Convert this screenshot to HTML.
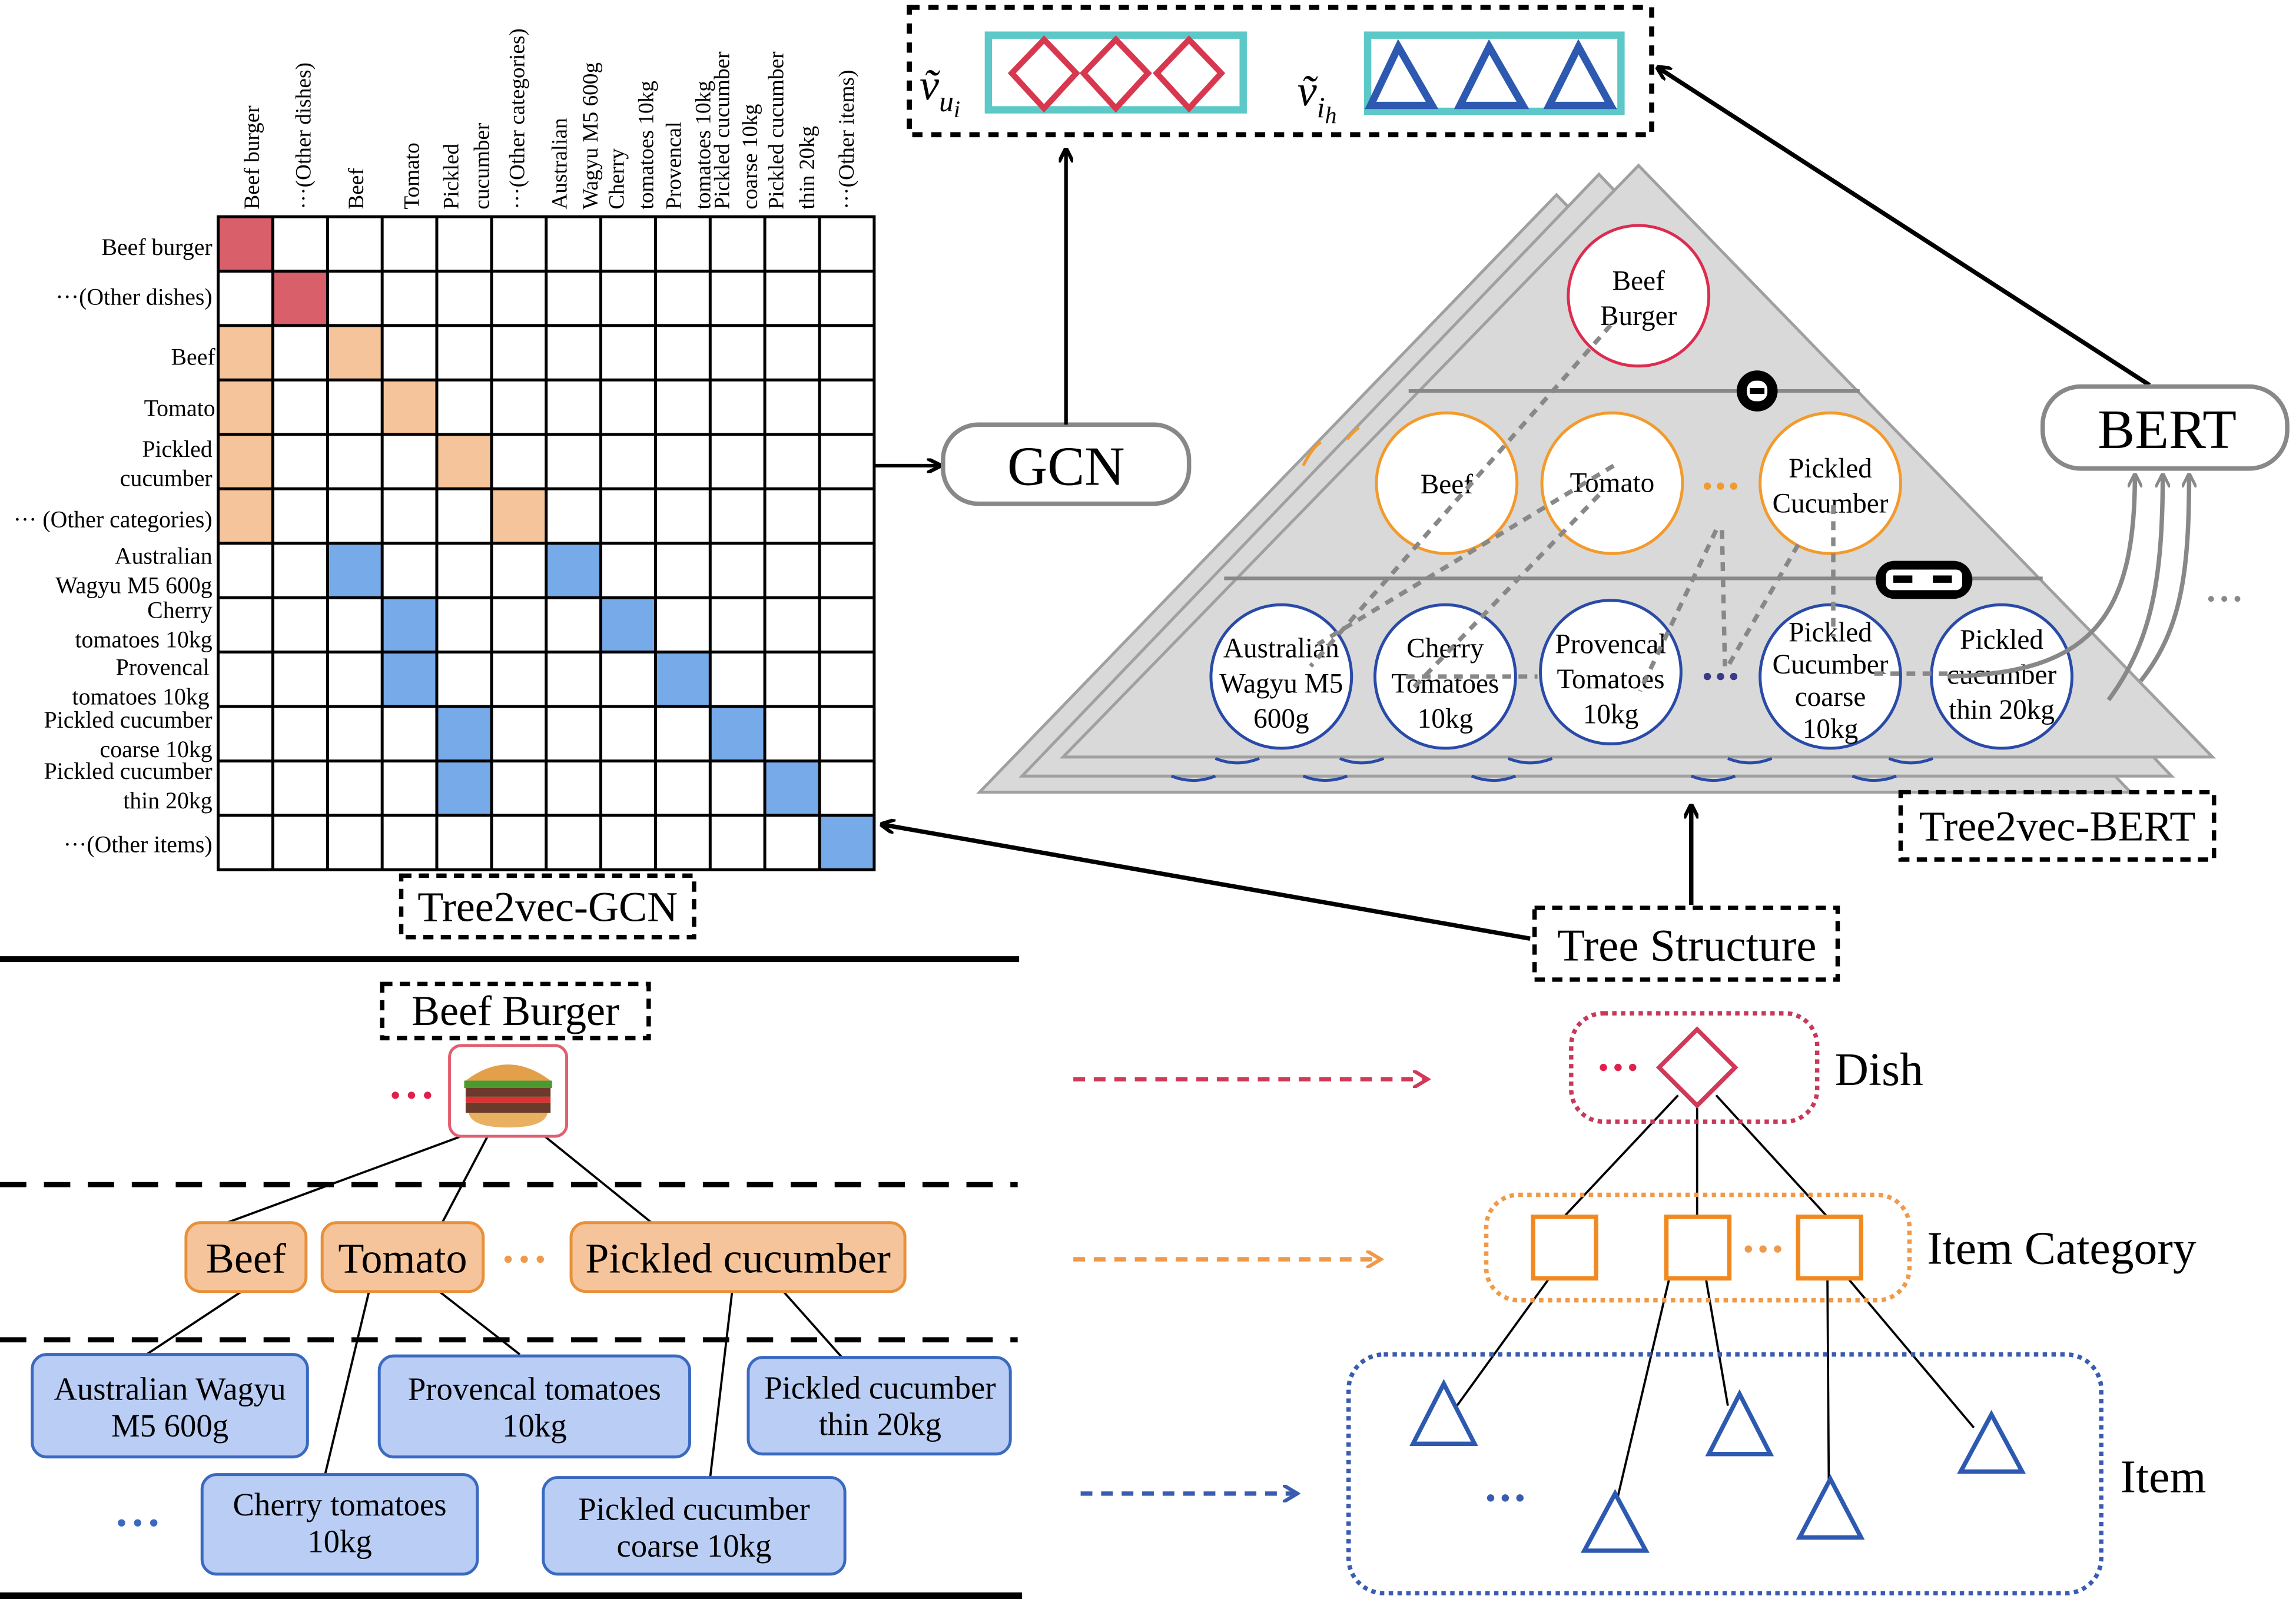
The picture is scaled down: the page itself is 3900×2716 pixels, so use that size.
<!DOCTYPE html>
<html><head><meta charset="utf-8"><style>html,body{margin:0;padding:0;background:#fff}svg{display:block}svg text,svg tspan{font-family:"Liberation Serif","DejaVu Serif",serif}</style></head>
<body>
<svg xmlns="http://www.w3.org/2000/svg" width="3900" height="2716" viewBox="0 0 1568 1092" preserveAspectRatio="none" style="font-family:'Liberation Serif',serif">
<defs>
<marker id="ah" markerWidth="10" markerHeight="10" refX="9" refY="5" orient="auto" markerUnits="userSpaceOnUse"><path d="M0,0 L10,5 L0,10" fill="none" stroke="#000" stroke-width="2.5"/></marker>
<marker id="ahg" markerWidth="10" markerHeight="10" refX="9" refY="5" orient="auto" markerUnits="userSpaceOnUse"><path d="M0,0 L10,5 L0,10" fill="none" stroke="#888" stroke-width="2"/></marker>
<marker id="ahr" markerWidth="12" markerHeight="12" refX="10" refY="6" orient="auto" markerUnits="userSpaceOnUse"><path d="M0,0 L10,6 L0,12" fill="none" stroke="#d03a58" stroke-width="2.5"/></marker>
<marker id="aho" markerWidth="12" markerHeight="12" refX="10" refY="6" orient="auto" markerUnits="userSpaceOnUse"><path d="M0,0 L10,6 L0,12" fill="none" stroke="#ef9a4a" stroke-width="2.5"/></marker>
<marker id="ahb" markerWidth="12" markerHeight="12" refX="10" refY="6" orient="auto" markerUnits="userSpaceOnUse"><path d="M0,0 L10,6 L0,12" fill="none" stroke="#3a5cb0" stroke-width="2.5"/></marker>
</defs>

<g>
<rect x="149" y="148" width="37.33" height="37.17" fill="#d9606b"/>
<rect x="186.3" y="185.2" width="37.33" height="37.17" fill="#d9606b"/>
<g fill="#f6c49a">
<rect x="149" y="222.3" width="37.33" height="148.7"/>
<rect x="223.7" y="222.3" width="37.33" height="37.17"/>
<rect x="261" y="259.5" width="37.33" height="37.17"/>
<rect x="298.3" y="296.7" width="37.33" height="37.17"/>
<rect x="335.7" y="333.8" width="37.33" height="37.17"/>
</g>
<g fill="#77aae8">
<rect x="223.7" y="371" width="37.33" height="37.17"/>
<rect x="373" y="371" width="37.33" height="37.17"/>
<rect x="261" y="408.2" width="37.33" height="74.3"/>
<rect x="410.3" y="408.2" width="37.33" height="37.17"/>
<rect x="447.7" y="445.3" width="37.33" height="37.17"/>
<rect x="298.3" y="482.5" width="37.33" height="74.3"/>
<rect x="485" y="482.5" width="37.33" height="37.17"/>
<rect x="522.3" y="519.7" width="37.33" height="37.17"/>
<rect x="559.7" y="556.8" width="37.33" height="37.17"/>
</g>
<g stroke="#000" stroke-width="2" fill="none">
<rect x="149" y="148" width="448" height="446"/>
<path d="M186.3 148V594M223.7 148V594M261 148V594M298.3 148V594M335.7 148V594M373 148V594M410.3 148V594M447.7 148V594M485 148V594M522.3 148V594M559.7 148V594"/>
<path d="M149 185.2H597M149 222.3H597M149 259.5H597M149 296.7H597M149 333.8H597M149 371H597M149 408.2H597M149 445.3H597M149 482.5H597M149 519.7H597M149 556.8H597"/>
</g>
</g>
<g font-size="16" text-anchor="end" fill="#000">
<text x="145" y="174">Beef burger</text>
<text x="145" y="208">···(Other dishes)</text>
<text x="147" y="249">Beef</text>
<text x="147" y="284">Tomato</text>
<text x="145" y="312">Pickled</text>
<text x="145" y="332">cucumber</text>
<text x="145" y="360">··· (Other categories)</text>
<text x="145" y="385">Australian</text>
<text x="145" y="405">Wagyu M5 600g</text>
<text x="145" y="422">Cherry</text>
<text x="145" y="442">tomatoes 10kg</text>
<text x="143" y="461">Provencal</text>
<text x="143" y="481">tomatoes 10kg</text>
<text x="145" y="497">Pickled cucumber</text>
<text x="145" y="517">coarse 10kg</text>
<text x="145" y="532">Pickled cucumber</text>
<text x="145" y="552">thin 20kg</text>
<text x="145" y="582">···(Other items)</text>
</g>
<g font-size="15" fill="#000">
<text transform="translate(177,143) rotate(-90)">Beef burger</text>
<text transform="translate(212,143) rotate(-90)">···(Other dishes)</text>
<text transform="translate(248,143) rotate(-90)">Beef</text>
<text transform="translate(286,143) rotate(-90)">Tomato</text>
<text transform="translate(313,143) rotate(-90)">Pickled</text>
<text transform="translate(334,143) rotate(-90)">cucumber</text>
<text transform="translate(358,143) rotate(-90)">···(Other categories)</text>
<text transform="translate(387,143) rotate(-90)">Australian</text>
<text transform="translate(408,143) rotate(-90)">Wagyu M5 600g</text>
<text transform="translate(426,143) rotate(-90)">Cherry</text>
<text transform="translate(446,143) rotate(-90)">tomatoes 10kg</text>
<text transform="translate(465,143) rotate(-90)">Provencal</text>
<text transform="translate(485,143) rotate(-90)">tomatoes 10kg</text>
<text transform="translate(498,143) rotate(-90)">Pickled cucumber</text>
<text transform="translate(517,143) rotate(-90)">coarse 10kg</text>
<text transform="translate(535,143) rotate(-90)">Pickled cucumber</text>
<text transform="translate(556,143) rotate(-90)">thin 20kg</text>
<text transform="translate(583,143) rotate(-90)">···(Other items)</text>
</g>
<rect x="274" y="598" width="200" height="42" fill="none" stroke="#000" stroke-width="3" stroke-dasharray="7,5"/>
<text x="374" y="629" font-size="29" text-anchor="middle">Tree2vec-GCN</text>

<line x1="597" y1="318" x2="642" y2="318" stroke="#000" stroke-width="2.5" marker-end="url(#ah)"/>
<rect x="644" y="290" width="168" height="54" rx="24" fill="#fff" stroke="#888" stroke-width="3"/>
<text x="728" y="331" font-size="38" text-anchor="middle">GCN</text>
<line x1="728" y1="290" x2="728" y2="102" stroke="#000" stroke-width="2.5" marker-end="url(#ah)"/>

<rect x="621" y="5" width="507" height="87" fill="none" stroke="#000" stroke-width="3.5" stroke-dasharray="7,6"/>
<text x="628" y="68" font-size="30" font-style="italic">ṽ<tspan font-size="20" dy="8">u</tspan><tspan font-size="16" dy="4">i</tspan></text>
<rect x="675" y="24" width="174" height="51" fill="none" stroke="#5cc8c8" stroke-width="5"/>
<g fill="none" stroke="#d8384f" stroke-width="4">
<path d="M713 27 L735 50 L713 74 L691 50Z"/><path d="M762 27 L784 50 L762 74 L740 50Z"/><path d="M812 27 L834 50 L812 74 L790 50Z"/>
</g>
<text x="886" y="72" font-size="30" font-style="italic">ṽ<tspan font-size="20" dy="8">i</tspan><tspan font-size="16" dy="4">h</tspan></text>
<rect x="934" y="24" width="173" height="52" fill="none" stroke="#5cc8c8" stroke-width="5"/>
<g fill="none" stroke="#2d5ab0" stroke-width="5">
<path d="M955 32 L978 72 L936 72Z"/><path d="M1017 32 L1040 72 L997 72Z"/><path d="M1078 32 L1100 72 L1058 72Z"/>
</g>
<line x1="1468" y1="263" x2="1132" y2="46" stroke="#000" stroke-width="3" marker-end="url(#ah)"/>

<g stroke="#a0a0a0" stroke-width="2" fill="#d9d9d9">
<path d="M1063 133 L669 541 L1455 541Z"/>
<path d="M1092 119 L698 530 L1483 530Z"/>
<path d="M1119 113 L726 517 L1511 517Z"/>
</g>
<g fill="none" stroke="#2a4aa8" stroke-width="2">
<path d="M830 518 q15 6 30 0 M915 518 q15 6 30 0 M1030 518 q15 6 30 0 M1180 518 q15 6 30 0 M1290 518 q15 6 30 0"/>
<path d="M800 530 q15 6 30 0 M890 530 q15 6 30 0 M1005 530 q15 6 30 0 M1155 530 q15 6 30 0 M1265 530 q15 6 30 0"/>
</g>
<path d="M890 318 q6 -12 12 -16 M920 300 q4 -5 8 -8" stroke="#f39a2c" stroke-width="2" fill="none"/>
<g stroke="#888" stroke-width="2.5">
<line x1="962" y1="267" x2="1270" y2="267"/>
<line x1="836" y1="395" x2="1395" y2="395"/>
</g>
<g fill="#fff" stroke-width="2">
<ellipse cx="1119" cy="202" rx="48" ry="48" stroke="#dc2c50"/>
<ellipse cx="988" cy="330" rx="48" ry="48" stroke="#f39a2c"/>
<ellipse cx="1101" cy="330" rx="48" ry="48" stroke="#f39a2c"/>
<ellipse cx="1250" cy="330" rx="48" ry="48" stroke="#f39a2c"/>
<ellipse cx="875" cy="462" rx="48" ry="49" stroke="#2a4aa8"/>
<ellipse cx="987" cy="462" rx="48" ry="49" stroke="#2a4aa8"/>
<ellipse cx="1100" cy="459" rx="48" ry="49" stroke="#2a4aa8"/>
<ellipse cx="1250" cy="462" rx="48" ry="49" stroke="#2a4aa8"/>
<ellipse cx="1367" cy="462" rx="48" ry="49" stroke="#2a4aa8"/>
</g>
<g font-size="19" text-anchor="middle" fill="#000">
<text x="1119" y="198">Beef</text><text x="1119" y="222">Burger</text>
<text x="988" y="337">Beef</text>
<text x="1101" y="336">Tomato</text>
<text x="1250" y="326">Pickled</text><text x="1250" y="350">Cucumber</text>
<text x="875" y="449">Australian</text><text x="875" y="473">Wagyu M5</text><text x="875" y="497">600g</text>
<text x="987" y="449">Cherry</text><text x="987" y="473">Tomatoes</text><text x="987" y="497">10kg</text>
<text x="1100" y="446">Provencal</text><text x="1100" y="470">Tomatoes</text><text x="1100" y="494">10kg</text>
<text x="1250" y="438">Pickled</text><text x="1250" y="460">Cucumber</text><text x="1250" y="482">coarse</text><text x="1250" y="504">10kg</text>
<text x="1367" y="443">Pickled</text><text x="1367" y="467">cucumber</text><text x="1367" y="491">thin 20kg</text>
</g>
<g stroke="#888" stroke-width="3" stroke-dasharray="6,5" fill="none">
<line x1="1100" y1="222" x2="895" y2="455"/>
<line x1="1102" y1="318" x2="900" y2="440"/>
<line x1="1092" y1="338" x2="965" y2="470"/>
<line x1="1172" y1="362" x2="1120" y2="472"/>
<line x1="1176" y1="362" x2="1178" y2="455"/>
<line x1="1252" y1="345" x2="1252" y2="435"/>
<line x1="1228" y1="372" x2="1180" y2="455"/>
<line x1="960" y1="462" x2="1050" y2="462"/>
<line x1="1280" y1="460" x2="1335" y2="460"/>
</g>
<g fill="#f39a2c"><circle cx="1166" cy="332" r="2.5"/><circle cx="1175" cy="332" r="2.5"/><circle cx="1184" cy="332" r="2.5"/></g>
<g fill="#3a3a8a"><circle cx="1166" cy="462" r="2.5"/><circle cx="1175" cy="462" r="2.5"/><circle cx="1184" cy="462" r="2.5"/></g>
<circle cx="1200" cy="267" r="14" fill="#000"/><rect x="1193" y="260" width="14" height="14" rx="6" fill="#fff"/><rect x="1195" y="265" width="10" height="4" fill="#000"/>
<rect x="1281" y="383" width="66" height="26" rx="13" fill="#000"/><rect x="1288" y="389" width="52" height="14" rx="4" fill="#fff"/><rect x="1293" y="393" width="13" height="5" fill="#000"/><rect x="1320" y="393" width="13" height="5" fill="#000"/>

<g stroke="#888" stroke-width="3" fill="none">
<path d="M1330 462 C1430 460 1458 420 1458 324" marker-end="url(#ahg)"/>
<path d="M1440 478 C1468 440 1477 400 1477 324" marker-end="url(#ahg)"/>
<path d="M1462 465 C1490 430 1495 390 1495 324" marker-end="url(#ahg)"/>
</g>
<rect x="1395" y="264" width="167" height="56" rx="26" fill="#fff" stroke="#888" stroke-width="3"/>
<text x="1480" y="306" font-size="38" text-anchor="middle">BERT</text>
<g fill="#888"><circle cx="1510" cy="409" r="2"/><circle cx="1519" cy="409" r="2"/><circle cx="1528" cy="409" r="2"/></g>
<rect x="1298" y="541" width="214" height="46" fill="none" stroke="#000" stroke-width="3" stroke-dasharray="7,5"/>
<text x="1405" y="574" font-size="29" text-anchor="middle">Tree2vec-BERT</text>

<rect x="1048" y="620" width="207" height="49" fill="none" stroke="#000" stroke-width="3" stroke-dasharray="7,5"/>
<text x="1152" y="656" font-size="31" text-anchor="middle">Tree Structure</text>
<line x1="1155" y1="618" x2="1155" y2="550" stroke="#000" stroke-width="3" marker-end="url(#ah)"/>
<line x1="1045" y1="641" x2="602" y2="563" stroke="#000" stroke-width="3" marker-end="url(#ah)"/>

<line x1="0" y1="655" x2="696" y2="655" stroke="#000" stroke-width="4"/>
<line x1="0" y1="1090" x2="698" y2="1090" stroke="#000" stroke-width="5"/>
<g stroke="#000" stroke-width="3.5" stroke-dasharray="18,12">
<line x1="0" y1="809" x2="695" y2="809"/>
<line x1="0" y1="915" x2="695" y2="915"/>
</g>

<rect x="261" y="672" width="182" height="37" fill="none" stroke="#000" stroke-width="3" stroke-dasharray="7,5"/>
<text x="352" y="700" font-size="29" text-anchor="middle">Beef Burger</text>
<g stroke="#000" stroke-width="1.5">
<line x1="315" y1="776" x2="155" y2="835"/>
<line x1="333" y1="776" x2="302" y2="835"/>
<line x1="372" y1="776" x2="445" y2="835"/>
<line x1="165" y1="882" x2="100" y2="925"/>
<line x1="252" y1="882" x2="222" y2="1007"/>
<line x1="300" y1="882" x2="355" y2="925"/>
<line x1="500" y1="882" x2="485" y2="1009"/>
<line x1="535" y1="882" x2="575" y2="927"/>
</g>
<rect x="307" y="714" width="80" height="62" rx="8" fill="#fff" stroke="#e06070" stroke-width="2"/>
<path d="M318 738 q29 -22 58 0z" fill="#e3a04a"/>
<rect x="317" y="738" width="60" height="5" fill="#4a9a30"/>
<rect x="318" y="743" width="58" height="6" fill="#6a3a2a"/>
<rect x="318" y="749" width="58" height="4" fill="#e03030"/>
<rect x="318" y="753" width="58" height="7" fill="#6a3a2a"/>
<path d="M320 760 h54 q-2 10 -27 10 q-25 0 -27 -10z" fill="#e8b060"/>
<g fill="#e0204a"><circle cx="270" cy="748" r="2.5"/><circle cx="281" cy="748" r="2.5"/><circle cx="292" cy="748" r="2.5"/></g>
<g fill="#f6c49a" stroke="#e8903a" stroke-width="2">
<rect x="127" y="835" width="82" height="47" rx="10"/>
<rect x="220" y="835" width="110" height="47" rx="10"/>
<rect x="390" y="835" width="228" height="47" rx="10"/>
</g>
<g font-size="29" text-anchor="middle">
<text x="168" y="869">Beef</text><text x="275" y="869">Tomato</text><text x="504" y="869">Pickled cucumber</text>
</g>
<g fill="#ef9a4a"><circle cx="347" cy="860" r="2.5"/><circle cx="358" cy="860" r="2.5"/><circle cx="369" cy="860" r="2.5"/></g>
<g fill="#b9cdf5" stroke="#3a6ac0" stroke-width="2">
<rect x="22" y="925" width="188" height="70" rx="10"/>
<rect x="259" y="926" width="212" height="69" rx="10"/>
<rect x="511" y="927" width="179" height="66" rx="10"/>
<rect x="138" y="1007" width="188" height="68" rx="10"/>
<rect x="371" y="1009" width="206" height="66" rx="10"/>
</g>
<g font-size="22" text-anchor="middle">
<text x="116" y="956">Australian Wagyu</text><text x="116" y="981">M5 600g</text>
<text x="365" y="956">Provencal tomatoes</text><text x="365" y="981">10kg</text>
<text x="601" y="955">Pickled cucumber</text><text x="601" y="980">thin 20kg</text>
<text x="232" y="1035">Cherry tomatoes</text><text x="232" y="1060">10kg</text>
<text x="474" y="1038">Pickled cucumber</text><text x="474" y="1063">coarse 10kg</text>
</g>
<g fill="#3a6ac0"><circle cx="83" cy="1040" r="2.5"/><circle cx="94" cy="1040" r="2.5"/><circle cx="105" cy="1040" r="2.5"/></g>

<line x1="733" y1="737" x2="975" y2="737" stroke="#d03a58" stroke-width="3" stroke-dasharray="8,6" marker-end="url(#ahr)"/>
<line x1="733" y1="860" x2="943" y2="860" stroke="#ef9a4a" stroke-width="3" stroke-dasharray="8,6" marker-end="url(#aho)"/>
<line x1="738" y1="1020" x2="886" y2="1020" stroke="#3a5cb0" stroke-width="3" stroke-dasharray="8,6" marker-end="url(#ahb)"/>

<g stroke="#000" stroke-width="1.5">
<line x1="1146" y1="748" x2="1068" y2="831"/>
<line x1="1159" y1="755" x2="1159" y2="831"/>
<line x1="1172" y1="748" x2="1248" y2="831"/>
<line x1="1058" y1="873" x2="995" y2="960"/>
<line x1="1140" y1="873" x2="1103" y2="1030"/>
<line x1="1165" y1="873" x2="1180" y2="960"/>
<line x1="1248" y1="873" x2="1249" y2="1022"/>
<line x1="1262" y1="873" x2="1348" y2="975"/>
</g>
<rect x="1073" y="692" width="168" height="74" rx="22" fill="none" stroke="#c8385a" stroke-width="3" stroke-dasharray="3,3"/>
<path d="M1159 703 L1185 729 L1159 755 L1133 729Z" fill="#fff" stroke="#d03a58" stroke-width="3"/>
<g fill="#e0204a"><circle cx="1095" cy="729" r="2.5"/><circle cx="1105" cy="729" r="2.5"/><circle cx="1115" cy="729" r="2.5"/></g>
<text x="1253" y="741" font-size="32">Dish</text>
<rect x="1015" y="816" width="289" height="72" rx="22" fill="none" stroke="#ef9a4a" stroke-width="3" stroke-dasharray="3,3"/>
<g fill="#fff" stroke="#f08a20" stroke-width="3">
<rect x="1047" y="831" width="43" height="42"/><rect x="1138" y="831" width="43" height="42"/><rect x="1228" y="831" width="43" height="42"/>
</g>
<g fill="#ef9a4a"><circle cx="1194" cy="853" r="2.5"/><circle cx="1204" cy="853" r="2.5"/><circle cx="1214" cy="853" r="2.5"/></g>
<text x="1316" y="863" font-size="32">Item Category</text>
<rect x="921" y="925" width="514" height="163" rx="24" fill="none" stroke="#3a5cb0" stroke-width="3" stroke-dasharray="3,3"/>
<g fill="#fff" stroke="#2d5ab0" stroke-width="3">
<path d="M986 945 L1007 986 L965 986Z"/>
<path d="M1188 952 L1209 993 L1167 993Z"/>
<path d="M1360 966 L1381 1005 L1339 1005Z"/>
<path d="M1103 1020 L1124 1059 L1082 1059Z"/>
<path d="M1250 1010 L1271 1050 L1229 1050Z"/>
</g>
<g fill="#3a5cb0"><circle cx="1018" cy="1023" r="2.5"/><circle cx="1028" cy="1023" r="2.5"/><circle cx="1038" cy="1023" r="2.5"/></g>
<text x="1448" y="1019" font-size="32">Item</text>
</svg>
</body></html>
